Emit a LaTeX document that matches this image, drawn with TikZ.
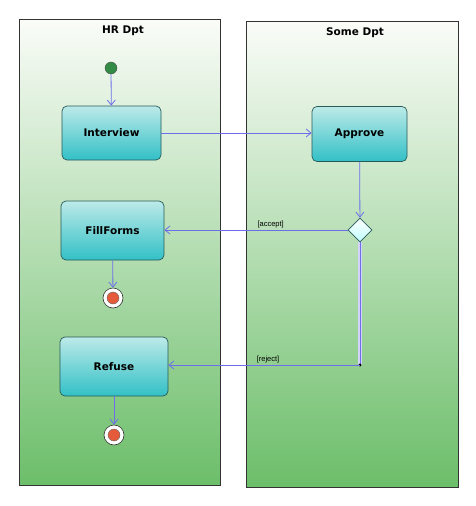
\documentclass[tikz,border=0pt]{standalone}
\usepackage{fontspec}
\setmainfont{DejaVu Sans}
\newfontfamily\guardfont{Liberation Sans}
\usetikzlibrary{shapes.geometric,arrows.meta}
\definecolor{laneBot}{RGB}{108,190,106}
\definecolor{laneTop}{RGB}{250,252,248}
\definecolor{boxTop}{RGB}{188,234,232}
\definecolor{boxBot}{RGB}{50,192,198}
\definecolor{boxLine}{RGB}{40,90,90}
\definecolor{flow}{RGB}{110,110,235}
\definecolor{startFill}{RGB}{50,140,70}
\definecolor{endFill}{RGB}{230,90,60}
\tikzset{
  lane/.style={draw=black!80, line width=0.8pt, top color=laneTop, bottom color=laneBot},
  lanetitle/.style={font=\bfseries\fontsize{10.5}{12}\selectfont},
  action/.style={draw=boxLine, line width=0.7pt, rounded corners=5pt, top color=boxTop, bottom color=boxBot, font=\bfseries\fontsize{10.5}{12}\selectfont, inner sep=0pt},
  flowline/.style={draw=flow, line width=0.8pt, -{Straight Barb[length=5pt,width=8pt]}},
  plainflow/.style={draw=flow, line width=0.8pt},
  guard/.style={font=\guardfont\fontsize{7.5}{8}\selectfont, inner sep=1.5pt},
  startnode/.style={circle, draw=black!70, fill=startFill, minimum size=12pt, inner sep=0pt},
  endnode/.style={circle, draw=black!80, fill=white, minimum size=20pt, inner sep=0pt, line width=0.6pt},
  endcore/.style={circle, draw=black!60, fill=endFill, minimum size=12pt, inner sep=0pt},
  decision/.style={diamond, draw=boxLine, line width=0.7pt, top color=white, bottom color=cyan!25, minimum width=24pt, minimum height=24pt, inner sep=0pt, aspect=1},
}
\begin{document}
\begin{tikzpicture}[x=1pt,y=-1pt]
\useasboundingbox (0,0) rectangle (476,506);
\fill[white] (0,0) rectangle (476,506);
% lanes
\path[lane] (19,19) rectangle (220,485);
\path[lane] (246,21) rectangle (458,487);
\node[lanetitle] (hrtitle) at (123,31) {HR Dpt};
\node[lanetitle] (sometitle) at (355,33) {Some Dpt};
% nodes
\node[startnode] (start) at (111,68) {};
\node[action, minimum width=99pt, minimum height=54pt] (interview) at (111.5,133) {Interview};
\node[action, minimum width=95pt, minimum height=55pt] (approve) at (359.5,134) {Approve};
\node[decision] (dec) at (360,230) {};
\node[action, minimum width=103pt, minimum height=59pt] (fill) at (112.5,230.5) {FillForms};
\node[endnode] (end1) at (113,298) {};
\node[endcore] at (end1) {};
\node[action, minimum width=108pt, minimum height=59pt] (refuse) at (114,366.5) {Refuse};
\node[endnode] (end2) at (114,435) {};
\node[endcore] at (end2) {};
\coordinate (merge) at (360,365);
% connectors
\draw[flowline] (start) -- (interview);
\draw[flowline] (interview.east) -- (approve.west |- interview.east);
\draw[flowline] (approve) -- (dec);
\draw[flowline] (dec.west) -- (fill.east |- dec.west) node[guard, pos=0.42, anchor=south] {[accept]};
\draw[line width=3.5pt, draw=flow!30] (dec.south) -- (merge);
\draw[plainflow] (dec.south) -- (merge);
\fill[black] (merge) circle (1.6pt);
\draw[flowline] (merge) -- (refuse.east |- merge) node[guard, pos=0.48, anchor=south] {[reject]};
\draw[flowline] (fill) -- (end1);
\draw[flowline] (refuse) -- (end2);
\end{tikzpicture}
\end{document}
